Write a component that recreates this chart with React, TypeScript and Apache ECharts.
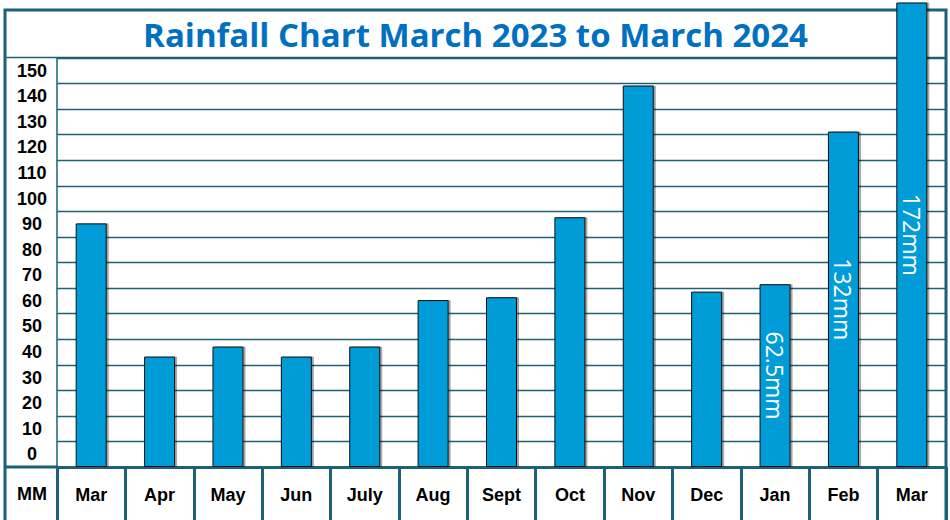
import React, { useEffect, useRef } from "react";
import * as echarts from "echarts";

const months = ["Mar", "Apr", "May", "Jun", "July", "Aug", "Sept", "Oct", "Nov", "Dec", "Jan", "Feb", "Mar"];
const rainfall = [95.3, 43.2, 47.1, 43.2, 47.1, 65.3, 66.4, 97.7, 149.2, 68.6, 71.5, 131.2, 181.7];
const barLabels = ["", "", "", "", "", "", "", "", "", "", "62.5mm", "132mm", "172mm"];
const yTickLabels = ["0", "10", "20", "30", "40", "50", "60", "70", "80", "90", "100", "110", "120", "130", "140", "150"];
const titleText = "Rainfall Chart March 2023 to March 2024";
const unitLabel = "MM";

const TEAL = "#1d6178";
const BAR = "#009cd8";

export default function App() {
  const ref = useRef<HTMLDivElement>(null);
  useEffect(() => {
    if (!ref.current) return;
    const chart = echarts.init(ref.current, null, { renderer: "svg" });
    chart.setOption({
      animation: false,
      backgroundColor: "#ffffff",
      grid: { left: 57, right: 4, top: 58, bottom: 53, containLabel: false },
      xAxis: {
        type: "category",
        data: months,
        boundaryGap: true,
        axisLine: { show: true, lineStyle: { color: TEAL, width: 3 } },
        axisTick: { show: true, interval: 0, length: 60, lineStyle: { color: TEAL, width: 3 } },
        axisLabel: {
          interval: 0,
          margin: 28,
          verticalAlign: "middle",
          color: "#000",
          fontWeight: "bold",
          fontSize: 18,
          fontFamily: "Liberation Sans, Arial, sans-serif",
        },
        splitLine: { show: false },
      },
      yAxis: [
        {
          type: "value",
          position: "left",
          min: 0,
          max: 160,
          interval: 10,
          axisLine: { show: true, lineStyle: { color: TEAL, width: 1.5 } },
          axisTick: { show: false },
          axisLabel: { show: false },
          splitLine: { show: true, lineStyle: { color: TEAL, width: 1.3 } },
        },
        {
          type: "category",
          position: "left",
          offset: 0,
          data: yTickLabels,
          boundaryGap: true,
          axisLine: { show: false },
          axisTick: { show: false },
          splitLine: { show: false },
          axisLabel: {
            interval: 0,
            margin: 25,
            align: "center",
            color: "#000",
            fontWeight: "bold",
            fontSize: 18,
            fontFamily: "Liberation Sans, Arial, sans-serif",
          },
        },
      ],
      graphic: [
        {
          type: "rect",
          z: 0,
          shape: { x: 5, y: 10, width: 941, height: 530 },
          style: { fill: "none", stroke: TEAL, lineWidth: 3 },
        },
        {
          type: "line",
          z: 0,
          shape: { x1: 5, y1: 57.5, x2: 946, y2: 57.5 },
          style: { stroke: TEAL, lineWidth: 1.5 },
        },
        {
          type: "line",
          z: 0,
          shape: { x1: 5, y1: 467, x2: 58, y2: 467 },
          style: { stroke: TEAL, lineWidth: 3 },
        },
        {
          type: "line",
          z: 0,
          shape: { x1: 57.5, y1: 466, x2: 57.5, y2: 522 },
          style: { stroke: TEAL, lineWidth: 1.5 },
        },
        {
          type: "text",
          z: 10,
          x: 475.5,
          y: 34,
          style: {
            text: titleText,
            fill: "#0070c0",
            font: "bold 33px 'Open Sans', sans-serif",
            textAlign: "center",
            textVerticalAlign: "middle",
          },
        },
        {
          type: "text",
          z: 10,
          x: 32,
          y: 494,
          style: {
            text: unitLabel,
            fill: "#000",
            font: "bold 18px 'Liberation Sans', Arial, sans-serif",
            textAlign: "center",
            textVerticalAlign: "middle",
          },
        },
      ],
      series: [
        {
          type: "bar",
          data: rainfall,
          yAxisIndex: 0,
          barWidth: 31,
          clip: false,
          z: 5,
          itemStyle: {
            color: BAR,
            borderColor: "#111",
            borderWidth: 1,
            shadowColor: "rgba(0,0,0,0.35)",
            shadowOffsetX: 2,
            shadowBlur: 1,
          },
          label: {
            show: true,
            position: "inside",
            rotate: -90,
            color: "#ffffff",
            fontSize: 23,
            fontFamily: "'Open Sans', sans-serif",
            formatter: (p: any) => barLabels[p.dataIndex],
          },
        },
      ],
    });
    return () => chart.dispose();
  }, []);
  return (
    <div
      ref={ref}
      style={{ position: "fixed", left: 0, top: 0, width: 950, height: 520, background: "#fff" }}
    />
  );
}
